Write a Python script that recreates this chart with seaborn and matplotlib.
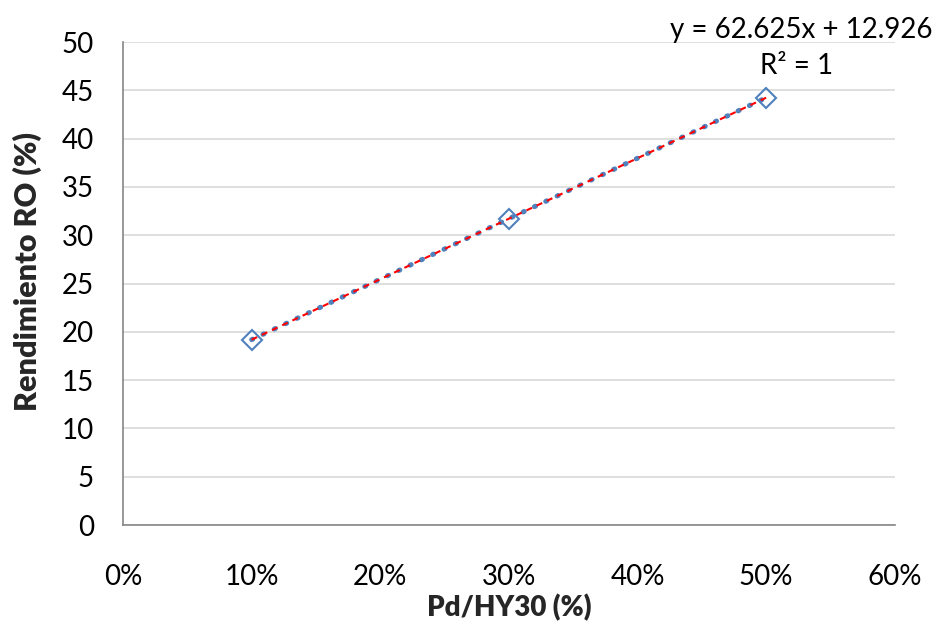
import numpy as np
import pandas as pd
import matplotlib
matplotlib.use("Agg")
import matplotlib.pyplot as plt
import seaborn as sns
from matplotlib.ticker import PercentFormatter

# Pd loading on HY30 (fraction) and RO yield (%)
pd_loading = [0.10, 0.30, 0.50]
ro_yield = [19.1885, 31.7135, 44.2385]

x_ticks = [0.0, 0.1, 0.2, 0.3, 0.4, 0.5, 0.6]
y_ticks = [0, 5, 10, 15, 20, 25, 30, 35, 40, 45, 50]

df = pd.DataFrame({"x": pd_loading, "y": ro_yield})

sns.set_theme(style="white")
plt.rcParams["font.family"] = ["Lato", "DejaVu Sans"]

fig = plt.figure(figsize=(9.37, 6.29), dpi=100)
ax = fig.add_axes([0.1313, 0.1653, 0.8237, 0.7679])

blue = "#4F81BD"

# series line drawn as round dots
sns.lineplot(data=df, x="x", y="y", ax=ax, color=blue, zorder=3,
             linewidth=3.6, dashes=False)
series_line = ax.lines[-1]
series_line.set_linestyle((0, (0.25, 2.25)))
series_line.set_dash_capstyle("round")

# linear trendline
sns.regplot(data=df, x="x", y="y", ax=ax, scatter=False, ci=None,
            line_kws=dict(color="#FF0000", linewidth=1.5,
                          linestyle=(0, (2.9, 2.5)), zorder=4))

# hollow diamond markers
ax.plot(df["x"], df["y"], linestyle="none", marker="D", markersize=10.5,
        markerfacecolor="none", markeredgecolor=blue, markeredgewidth=1.5,
        zorder=5)

slope, intercept = np.polyfit(pd_loading, ro_yield, 1)
pred = np.polyval([slope, intercept], pd_loading)
ss_res = np.sum((np.array(ro_yield) - pred) ** 2)
ss_tot = np.sum((np.array(ro_yield) - np.mean(ro_yield)) ** 2)
r2 = 1 - ss_res / ss_tot

fig.text(0.9947, 0.952, f"y = {slope:.3f}x + {intercept:.3f}", ha="right",
         va="center", fontsize=20, color="black")
fig.text(0.8506, 0.895, f"R² = {r2:.0f}", ha="center", va="center",
         fontsize=20, color="black")

ax.set_xlim(0, 0.6)
ax.set_ylim(0, 50)
ax.set_xticks(x_ticks)
ax.set_yticks(y_ticks)
ax.xaxis.set_major_formatter(PercentFormatter(xmax=1, decimals=0))

ax.grid(axis="y", color="#D9D9D9", linewidth=1.2)
ax.set_axisbelow(True)
for side in ["top", "right"]:
    ax.spines[side].set_visible(False)
for side in ["left", "bottom"]:
    ax.spines[side].set_color("#868686")
    ax.spines[side].set_linewidth(1.2)

ax.tick_params(axis="x", length=0, pad=28, labelsize=20, colors="black")
ax.tick_params(axis="y", length=0, pad=21, labelsize=20, colors="black")

ax.set_xlabel("Pd/HY30 (%)", fontsize=20, fontweight="heavy", labelpad=3)
ax.set_ylabel("Rendimiento RO (%)", fontsize=22, fontweight="heavy")
ax.yaxis.set_label_coords(-0.105, 0.524)

fig.savefig("out.png", dpi=100)
